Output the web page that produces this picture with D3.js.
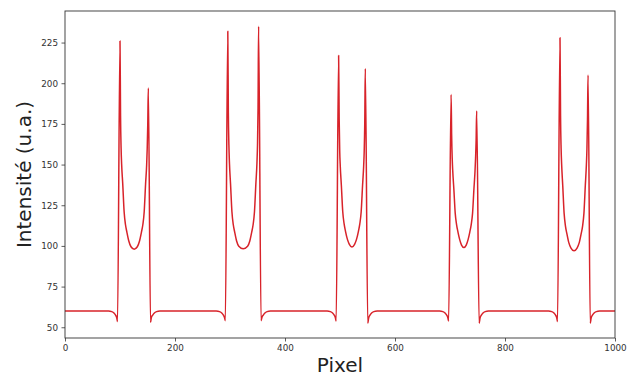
<!DOCTYPE html>
<html>
<head>
<meta charset="utf-8">
<script src="https://cdn.jsdelivr.net/npm/d3@7"></script>
<style>
  html, body { margin: 0; padding: 0; background: #fff; }
  svg { display: block; }
  text { font-family: "DejaVu Sans", sans-serif; }
</style>
</head>
<body>
<svg id="chart" width="633" height="376"></svg>
<script>
// ---- data ----
const pixel = [
  0, 79, 85, 89, 92, 94, 95.5,
  100, 101, 102, 103, 105, 107.5, 110, 112.5, 116, 120, 125.75, 131.5, 135.5, 139, 141.5, 144, 146.5, 148.5, 149.5, 150.5, 151.5,
  155.5, 157, 159.5, 162.5, 166.5, 172.5,
  275, 281, 285, 288, 290, 291.5,
  296, 297, 298, 299, 301, 303.5, 306, 308.5, 312, 316, 324, 332, 336, 339.5, 342, 344.5, 347, 349, 350, 351, 352,
  356.5, 358, 360.5, 363.5, 367.5, 373.5,
  476.5, 482.5, 486.5, 489.5, 491.5, 493,
  497.5, 498.5, 499.5, 500.5, 502.5, 505, 507.5, 510, 513.5, 517, 521.75, 526.5, 530, 533.5, 536, 538.5, 541, 543, 544, 545, 546,
  550.5, 552, 554.5, 557.5, 561.5, 567.5,
  681, 687, 691, 694, 696, 697.5,
  702, 703, 704, 705, 707, 709.5, 712, 714.5, 717.5, 721, 725.25, 729.5, 733, 736, 738.5, 741, 743.5, 745.5, 746.5, 747.5, 748.5,
  753, 754.5, 757, 760, 764, 770,
  879, 885, 889, 892, 894, 895.5,
  900, 901, 902, 903, 905, 907.5, 910, 912.5, 916, 920, 925.5, 931, 935, 938.5, 941, 943.5, 946, 948, 949, 950, 951,
  955, 956.5, 959, 962, 966, 972, 1000
];
const intensity = [
  60, 60, 59.6, 58.8, 57.5, 56, 53.5,
  226, 180, 160, 150, 138, 121, 113, 108.5, 103, 99.5, 98, 99.5, 103, 108.5, 113, 121, 138, 150, 160, 175, 197,
  53, 56, 57.5, 58.8, 59.6, 60,
  60, 59.6, 58.8, 57.5, 56, 54,
  232, 182, 162, 151, 138, 121, 113, 108.5, 103, 99.8, 98.2, 99.8, 103, 108.5, 113, 121, 138, 151, 162, 185, 235,
  54, 56, 57.5, 58.8, 59.6, 60,
  60, 59.6, 58.8, 57.5, 56, 53.8,
  217, 178, 158, 149, 137, 121, 113.5, 109, 104, 101, 99.4, 101, 104, 109, 113.5, 121, 137, 149, 158, 175, 209,
  52.5, 55.5, 57.5, 58.8, 59.6, 60,
  60, 59.6, 58.8, 57.5, 56, 53.8,
  193, 168, 154, 146, 135, 120, 113, 108.5, 104, 100.5, 99, 100.5, 104, 108.5, 113, 120, 135, 146, 154, 165, 183,
  52.5, 55.5, 57.5, 58.8, 59.6, 60,
  60, 59.6, 58.8, 57.5, 56, 53.5,
  228, 180, 160, 150, 137, 120, 112, 107.5, 102, 98.7, 97, 98.7, 102, 107.5, 112, 120, 137, 150, 160, 178, 205,
  52.5, 55.5, 57.5, 58.8, 59.6, 60, 60
];
const xTicks = [0, 200, 400, 600, 800, 1000];
const yTicks = [50, 75, 100, 125, 150, 175, 200, 225];
const xDomain = [0, 1000];
const yDomain = [43.4, 244.4];
const xLabel = "Pixel";
const yLabel = "Intensité (u.a.)";

// ---- layout ----
const margin = { left: 65, right: 18, top: 11, bottom: 38 };
const W = 633, H = 376;
const svg = d3.select("#chart");
const x = d3.scaleLinear().domain(xDomain).range([margin.left, W - margin.right]);
const y = d3.scaleLinear().domain(yDomain).range([H - margin.bottom, margin.top]);

const data = pixel.map((p, i) => ({ p, v: intensity[i] }));

// clip
svg.append("defs").append("clipPath").attr("id", "clip")
  .append("rect")
  .attr("x", margin.left).attr("y", margin.top)
  .attr("width", W - margin.left - margin.right)
  .attr("height", H - margin.top - margin.bottom);

// line
const line = d3.line()
  .x(d => x(d.p))
  .y(d => y(d.v))
  .curve(d3.curveMonotoneX);

svg.append("path")
  .datum(data)
  .attr("clip-path", "url(#clip)")
  .attr("fill", "none")
  .attr("stroke", "#d8232a")
  .attr("stroke-width", 1.5)
  .attr("stroke-linejoin", "round")
  .attr("d", line);

// axes
const xAxis = d3.axisBottom(x).tickValues(xTicks).tickSize(3.5).tickPadding(3.5).tickFormat(d3.format("d"));
const yAxis = d3.axisLeft(y).tickValues(yTicks).tickSize(3.5).tickPadding(3.5).tickFormat(d3.format("d"));

const gx = svg.append("g")
  .attr("transform", `translate(0,${H - margin.bottom})`)
  .call(xAxis);
const gy = svg.append("g")
  .attr("transform", `translate(${margin.left},0)`)
  .call(yAxis);

[gx, gy].forEach(g => {
  g.select(".domain").remove();
  g.selectAll(".tick line").attr("stroke", "#333").attr("stroke-width", 0.8);
  g.selectAll(".tick text")
    .attr("fill", "#333")
    .style("font-size", "8.8px")
    .style("font-family", "'DejaVu Sans', sans-serif");
});

// frame
svg.append("rect")
  .attr("x", margin.left).attr("y", margin.top)
  .attr("width", W - margin.left - margin.right)
  .attr("height", H - margin.top - margin.bottom)
  .attr("fill", "none")
  .attr("stroke", "#333")
  .attr("stroke-width", 0.9);

// labels
svg.append("text")
  .attr("x", (margin.left + W - margin.right) / 2)
  .attr("y", 372)
  .attr("text-anchor", "middle")
  .attr("fill", "#222")
  .style("font-size", "20px")
  .text(xLabel);

svg.append("text")
  .attr("transform", `translate(31,${(margin.top + H - margin.bottom) / 2}) rotate(-90)`)
  .attr("text-anchor", "middle")
  .attr("fill", "#222")
  .style("font-size", "20px")
  .text(yLabel);
</script>
</body>
</html>
